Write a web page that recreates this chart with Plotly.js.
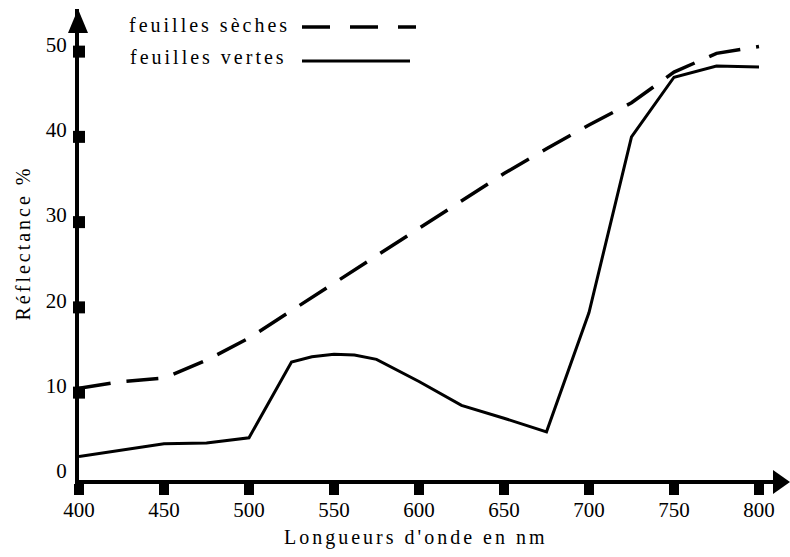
<!DOCTYPE html>
<html>
<head>
<meta charset="utf-8">
<script src="https://cdn.plot.ly/plotly-3.0.1.min.js"></script>
<style>
  html, body { margin: 0; padding: 0; background: #fff; }
  #chart { width: 790px; height: 557px; }
  #chart .annotation-text { letter-spacing: 3px; }
</style>
</head>
<body>
<div id="chart"></div>
<script>
// Spectral reflectance of leaves, 400-800 nm
const seriesNames = ['feuilles sèches', 'feuilles vertes'];

const dryWavelengths = [400, 425, 450, 475, 500, 550, 600, 650, 675, 700, 725, 750, 775, 800];
const dryReflectance = [10.5, 11.3, 11.7, 13.8, 16.4, 22.8, 29.2, 35.7, 38.6, 41.4, 44.0, 47.6, 49.8, 50.6];

const greenWavelengths = [400, 450, 475, 500, 525, 537, 550, 562, 575, 600, 625, 650, 675, 700, 725, 750, 775, 800];
const greenReflectance = [2.5, 4.0, 4.1, 4.7, 13.6, 14.2, 14.5, 14.4, 13.9, 11.3, 8.5, 7.0, 5.4, 19.4, 40.0, 47.0, 48.3, 48.2];

const xTicks = [400, 450, 500, 550, 600, 650, 700, 750, 800];
const yTicks = [0, 10, 20, 30, 40, 50];
const ySquareTicks = [10, 20, 30, 40, 50];

const xTitle = "Longueurs d'onde en nm";
const yTitle = 'Réflectance %';

// Page geometry, used to place the decorations in paper units
const W = 790, H = 557;
const M = { l: 79, r: 5, t: 9, b: 77 };
const plotW = W - M.l - M.r;
const plotH = H - M.t - M.b;
const px = x => (x - M.l) / plotW;
const py = y => (H - M.b - y) / plotH;

const FONT = '"Liberation Serif", "Times New Roman", serif';
const dashPattern = '32px,16px';

const traces = [
  {
    x: dryWavelengths, y: dryReflectance, name: seriesNames[0],
    mode: 'lines', line: { color: '#000', width: 3.5, dash: dashPattern },
    cliponaxis: false, hoverinfo: 'skip'
  },
  {
    x: greenWavelengths, y: greenReflectance, name: seriesNames[1],
    mode: 'lines', line: { color: '#000', width: 3 },
    cliponaxis: false, hoverinfo: 'skip'
  },
  {
    // square tick marks straddling the vertical axis
    x: ySquareTicks.map(() => xTicks[0]), y: ySquareTicks,
    mode: 'markers', marker: { symbol: 'square', size: 12, color: '#000' },
    cliponaxis: false, hoverinfo: 'skip'
  }
];

const shapes = [
  // arrow heads at the ends of both axes
  { type: 'path', xref: 'paper', yref: 'paper', line: { width: 0 }, fillcolor: '#000',
    path: `M ${px(78)},${py(9)} L ${px(68)},${py(33)} L ${px(88)},${py(33)} Z` },
  { type: 'path', xref: 'paper', yref: 'paper', line: { width: 0 }, fillcolor: '#000',
    path: `M ${px(790)},${py(482)} L ${px(773)},${py(470)} L ${px(773)},${py(494)} Z` },
  // key samples
  { type: 'line', xref: 'paper', yref: 'paper', x0: px(302), x1: px(416), y0: py(27), y1: py(27),
    line: { color: '#000', width: 3.5, dash: '28px,20px' } },
  { type: 'line', xref: 'paper', yref: 'paper', x0: px(302), x1: px(410), y0: py(61), y1: py(61),
    line: { color: '#000', width: 3 } }
];

const textFont = { family: FONT, size: 20, color: '#000' };
const annotations = [
  { text: seriesNames[0], xref: 'paper', yref: 'paper', x: px(127), y: py(25),
    xanchor: 'left', yanchor: 'middle', align: 'left', showarrow: false, font: textFont },
  { text: seriesNames[1], xref: 'paper', yref: 'paper', x: px(128), y: py(57),
    xanchor: 'left', yanchor: 'middle', align: 'left', showarrow: false, font: textFont },
  { text: xTitle, xref: 'paper', yref: 'paper', x: px(416), y: py(537),
    xanchor: 'center', yanchor: 'middle', showarrow: false, font: textFont },
  { text: yTitle, xref: 'paper', yref: 'paper', x: px(23), y: py(243), textangle: -90,
    xanchor: 'center', yanchor: 'middle', showarrow: false, font: textFont }
];

const layout = {
  width: W, height: H,
  margin: M,
  paper_bgcolor: '#fff', plot_bgcolor: '#fff',
  showlegend: false,
  xaxis: {
    range: [400, 400 + plotW / 1.7],
    showline: true, linewidth: 4, linecolor: '#000',
    ticks: 'outside', ticklen: 11, tickwidth: 10, tickcolor: '#000',
    ticklabelstandoff: -3,
    tickmode: 'array', tickvals: xTicks, ticktext: xTicks.map(String),
    tickfont: { family: FONT, size: 21, color: '#000' },
    showgrid: false, zeroline: false, fixedrange: true
  },
  yaxis: {
    range: [-0.25, 55],
    showline: true, linewidth: 4, linecolor: '#000',
    ticks: '',
    tickmode: 'array', tickvals: yTicks, ticktext: yTicks.map(String),
    ticklabelshift: -7, ticklabelstandoff: 4,
    tickfont: { family: FONT, size: 21, color: '#000' },
    showgrid: false, zeroline: false, fixedrange: true
  },
  shapes: shapes,
  annotations: annotations
};

Plotly.newPlot('chart', traces, layout, { staticPlot: true, displayModeBar: false });
</script>
</body>
</html>
